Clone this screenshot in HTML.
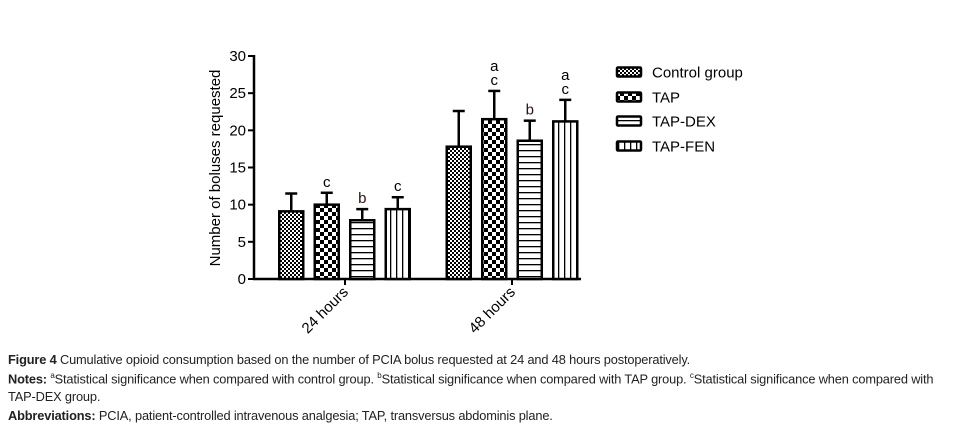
<!DOCTYPE html>
<html><head><meta charset="utf-8"><style>
body{margin:0;background:#fff;width:953px;height:429px;overflow:hidden;font-family:"Liberation Sans",sans-serif}
.cap{position:absolute;left:8px;font-size:12.8px;color:#222;white-space:nowrap;letter-spacing:-0.15px}
.cap b{font-weight:bold}
</style></head><body>
<svg id="chart" width="953" height="345" style="position:absolute;left:0;top:0">
<defs>
<pattern id="pCtrl" width="4" height="4" patternUnits="userSpaceOnUse"><rect width="4" height="4" fill="#fff"/><rect width="2" height="2" fill="#000"/><rect x="2" y="2" width="2" height="2" fill="#000"/></pattern>
<pattern id="pTap" width="8" height="8" patternUnits="userSpaceOnUse"><rect width="8" height="8" fill="#fff"/><rect width="4" height="4" fill="#000"/><rect x="4" y="4" width="4" height="4" fill="#000"/></pattern>
<pattern id="pDex" width="6" height="6" patternUnits="userSpaceOnUse"><rect width="6" height="6" fill="#fff"/><rect y="0" width="6" height="1.3" fill="#000"/></pattern>
<pattern id="pFen" width="6" height="6" patternUnits="userSpaceOnUse"><rect width="6" height="6" fill="#fff"/><rect x="0" width="1.3" height="6" fill="#000"/></pattern>
</defs>
<g id="plot"></g>
</svg>
<div class="cap" style="top:352px"><b>Figure 4</b> Cumulative opioid consumption based on the number of PCIA bolus requested at 24 and 48 hours postoperatively.</div>
<div class="cap" style="top:371px"><b>Notes:</b> <sup style="font-size:8px">a</sup>Statistical significance when compared with control group. <sup style="font-size:8px">b</sup>Statistical significance when compared with TAP group. <sup style="font-size:8px">c</sup>Statistical significance when compared with</div>
<div class="cap" style="top:389px">TAP-DEX group.</div>
<div class="cap" style="top:408px"><b>Abbreviations:</b> PCIA, patient-controlled intravenous analgesia; TAP, transversus abdominis plane.</div>
<script>
const categories=["24 hours","48 hours"];
const groups=["Control group","TAP","TAP-DEX","TAP-FEN"];
const means24=[9.1,10.0,7.9,9.4];
const means48=[17.8,21.5,18.6,21.2];
const err24=[11.5,11.6,9.4,11.0];
const err48=[22.6,25.3,21.3,24.1];
const sig24=["","c","b","c"];
const sig48=["","a\nc","b","a\nc"];
const yTicks=[0,5,10,15,20,25,30];
const fills=["url(#pCtrl)","url(#pTap)","url(#pDex)","url(#pFen)"];
const NS="http://www.w3.org/2000/svg";
const g=document.getElementById('plot');
const X0=254,X1=581,Y0=279,Y1=56,YMAX=30;
const y=v=>Y0-(Y0-Y1)*v/YMAX;
const catX=[345,512];
const barW=24,step=35.5;
const barX=(c,i)=>catX[c]+(i-1.5)*step-barW/2+ (c===0? -0.5:0);
function el(t,a,txt){const e=document.createElementNS(NS,t);for(const k in a)e.setAttribute(k,a[k]);if(txt!==undefined)e.textContent=txt;g.appendChild(e);return e;}
let ax=el('line',{x1:X0,y1:Y1-1,x2:X0,y2:Y0+1,stroke:'#000','stroke-width':2.5});

ax=el('line',{x1:X0-1,y1:Y0,x2:X1,y2:Y0,stroke:'#000','stroke-width':2.5});

yTicks.forEach(t=>{
  const l=el('line',{x1:X0-6,y1:y(t),x2:X0,y2:y(t),stroke:'#000','stroke-width':2});
  
  const tx=el('text',{x:X0-8,y:y(t)+5,'text-anchor':'end','font-size':15,fill:'#000'},t);
  
});
const yt=el('text',{x:0,y:0,transform:'translate(220,168) rotate(-90)','text-anchor':'middle','font-size':15},'Number of boluses requested');

categories.forEach((c,ci)=>{
  const l=el('line',{x1:catX[ci],y1:Y0,x2:catX[ci],y2:Y0+6,stroke:'#000','stroke-width':2});
  
  const tx=el('text',{x:0,y:0,transform:`translate(${catX[ci]+4},${Y0+14}) rotate(-45)`,'text-anchor':'end','font-size':15},c);
  
  const means=ci?means48:means24,errs=ci?err48:err24,sigs=ci?sig48:sig24;
  means.forEach((m,i)=>{
    const bx=barX(ci,i),cx=bx+barW/2;
    const e=el('line',{x1:cx,y1:y(errs[i]),x2:cx,y2:y(m),stroke:'#000','stroke-width':2.5});
    
    const cap=el('line',{x1:cx-6,y1:y(errs[i]),x2:cx+6,y2:y(errs[i]),stroke:'#000','stroke-width':2.5});
    
    const r=el('rect',{x:bx,y:y(m),width:barW,height:Y0-y(m),fill:fills[i],stroke:'#000','stroke-width':2.5});
    
    const lines=sigs[i]?sigs[i].split('\n'):[];
    lines.forEach((s,k)=>{
      const t=el('text',{x:cx,y:y(errs[i])-6-(lines.length-1-k)*14,'text-anchor':'middle','font-size':15,fill:s==='b'?'#2a1010':'#000'},s);
      
    });
  });
});
const legY=[72,97,121,146];
groups.forEach((n,i)=>{
  const r=el('rect',{x:617,y:legY[i]-4.5,width:24,height:9,fill:fills[i],stroke:'#000','stroke-width':2.5,rx:1});
  
  const t=el('text',{x:652,y:legY[i]+5.5,'font-size':15},n);
  
});
</script>
</body></html>
